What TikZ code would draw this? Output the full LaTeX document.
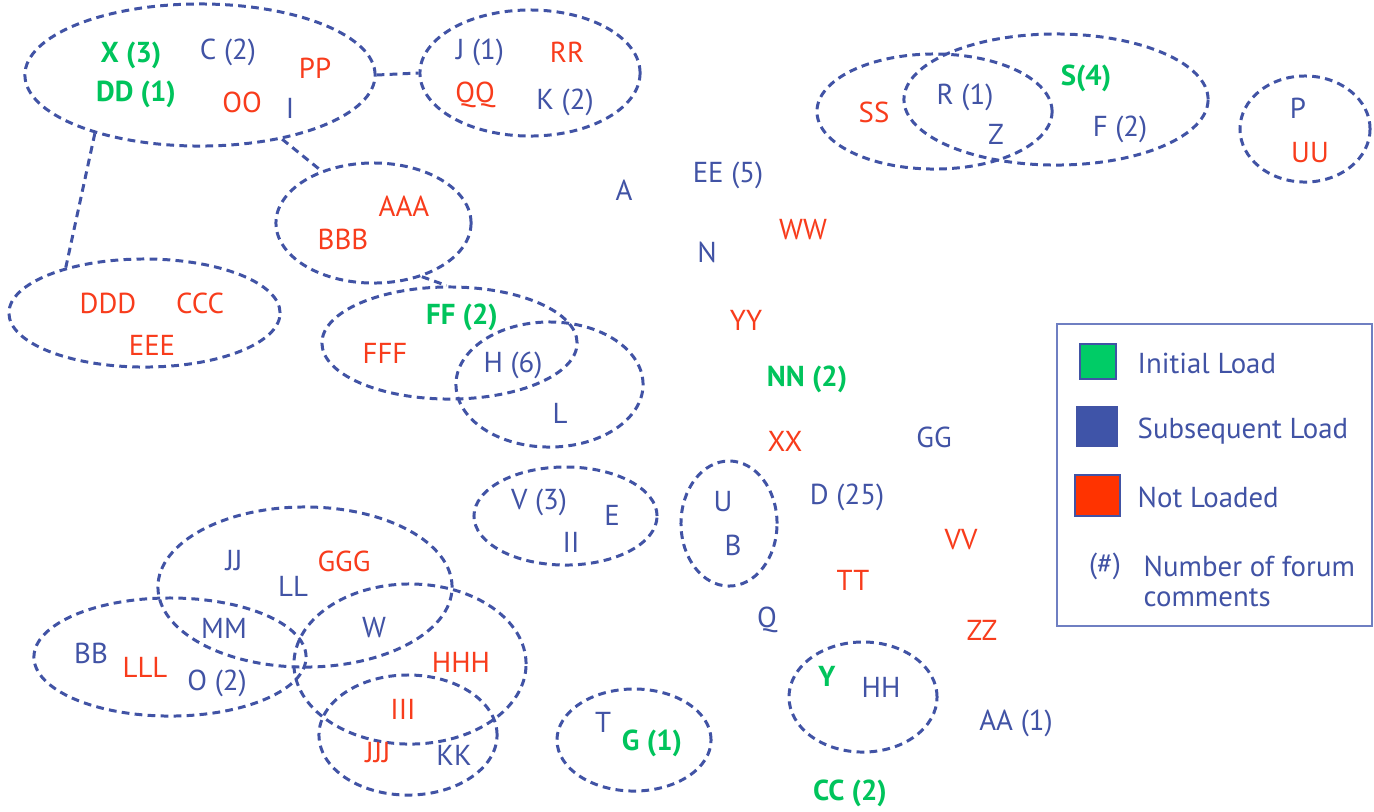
\documentclass[tikz,border=0pt]{standalone}
\usepackage{fontspec}
\setmainfont{PT Sans}
\usetikzlibrary{shapes.geometric}
\definecolor{tblue}{HTML}{4153A5}
\definecolor{tred}{HTML}{F83C1C}
\definecolor{tgreen}{HTML}{00C45C}
\definecolor{sqgreen}{HTML}{00CC66}
\definecolor{sqblue}{HTML}{3F54A8}
\definecolor{sqred}{HTML}{FF3300}
\definecolor{lborder}{HTML}{6F7FC2}
\begin{document}
\begin{tikzpicture}[x=0.01cm,y=-0.01cm,
  grp/.style={draw=tblue, dash pattern=on 2.2pt off 1.5pt, line width=0.85pt, ellipse, inner sep=0pt},
  conn/.style={draw=tblue, dash pattern=on 2.2pt off 1.5pt, line width=0.85pt},
  lb/.style={font=\fontsize{8.2}{10}\selectfont, text=tblue, inner sep=0pt},
  lr/.style={lb, text=tred},
  lg/.style={inner sep=0pt, text=tgreen, font=\fontsize{8.2}{10}\selectfont\bfseries},
  sq/.style={draw=tblue, line width=0.4pt, inner sep=0pt},
  leg/.style={lb, anchor=west}]
\useasboundingbox (0,0) rectangle (1374,811);
\fill[white] (0,0) rectangle (1374,811);
% groups
\node[grp, minimum width=3.50cm, minimum height=1.42cm] (e1) at (200,75) {};
\node[grp, minimum width=2.20cm, minimum height=1.26cm] (e2) at (530,73) {};
\node[grp, minimum width=1.95cm, minimum height=1.20cm] (e3) at (373.5,223) {};
\node[grp, minimum width=2.71cm, minimum height=1.08cm] (e5) at (144.5,313) {};
\node[grp, minimum width=2.55cm, minimum height=1.12cm] (e4) at (449.5,343) {};
\node[grp, minimum width=1.87cm, minimum height=1.25cm] (e6) at (549.5,384.5) {};
\node[grp, minimum width=1.83cm, minimum height=0.98cm] (e7) at (565.5,516) {};
\node[grp, minimum width=0.96cm, minimum height=1.25cm] (e8) at (729,523.5) {};
\node[grp, minimum width=2.94cm, minimum height=1.60cm] (e9) at (305,587) {};
\node[grp, minimum width=2.72cm, minimum height=1.18cm] (e10) at (170,657) {};
\node[grp, minimum width=2.32cm, minimum height=1.60cm] (e11) at (410,664) {};
\node[grp, minimum width=1.78cm, minimum height=1.20cm] (e12) at (408,735) {};
\node[grp, minimum width=1.54cm, minimum height=1.02cm] (e13) at (634,740) {};
\node[grp, minimum width=1.48cm, minimum height=1.10cm] (e14) at (863,697) {};
\node[grp, minimum width=2.35cm, minimum height=1.15cm] (e15) at (934.5,111.5) {};
\node[grp, minimum width=3.04cm, minimum height=1.31cm] (e16) at (1056,99.5) {};
\node[grp, minimum width=1.30cm, minimum height=1.06cm] (e17) at (1305,129) {};
% connectors
\draw[conn] (e1.east) -- (e2.west);
\draw[conn] (e1.209) -- (e5.150);
\draw[conn] (e1.-38) -- (e3.135);
\draw[conn] (e3.-48) -- (e4.93);
% texts in groups
\node[lg] (x3) at (131,55) {X (3)};
\node[lg] (dd1) at (136,94) {DD (1)};
\node[lb] (c2) at (228,52) {C (2)};
\node[lr] (pp) at (315,68) {PP};
\node[lr] (oo) at (242,102) {OO};
\node[lb] (i) at (290,108) {I};
\node[lb] (j1) at (480,52) {J (1)};
\node[lr] (rr) at (567,52) {RR};
\node[lr] (qq) at (475,95) {QQ};
\node[lb] (k2) at (565,102) {K (2)};
\node[lr] (aaa) at (404,206) {AAA};
\node[lr] (bbb) at (343,239) {BBB};
\node[lr] (ddd) at (108,303) {DDD};
\node[lr] (ccc) at (200,303) {CCC};
\node[lr] (eee) at (152,345) {EEE};
\node[lg] (ff2) at (462,317) {FF (2)};
\node[lr] (fff) at (385,353) {FFF};
\node[lb] (h6) at (513,365) {H (6)};
\node[lb] (l) at (560,413) {L};
\node[lb] (v3) at (539,502) {V (3)};
\node[lb] (e) at (612,515) {E};
\node[lb] (ii) at (571,542) {II};
\node[lb] (u) at (723,502) {U};
\node[lb] (b) at (733,545) {B};
\node[lb] (jj) at (234,561) {JJ};
\node[lb] (ll) at (293,586) {LL};
\node[lr] (ggg) at (344,561) {GGG};
\node[lb] (mm) at (224,628) {MM};
\node[lb] (w) at (374,628) {W};
\node[lb] (bb) at (91,653) {BB};
\node[lr] (lll) at (145,667) {LLL};
\node[lb] (o2) at (217,683) {O (2)};
\node[lr] (hhh) at (461,662) {HHH};
\node[lr] (iii) at (403,709) {III};
\node[lr] (jjj) at (378,753) {JJJ};
\node[lb] (kk) at (454,755) {KK};
\node[lb] (t) at (603,722) {T};
\node[lg] (g1) at (652,743) {G (1)};
\node[lg] (y) at (827,676) {Y};
\node[lb] (hh) at (881,687) {HH};
\node[lr] (ss) at (874,112) {SS};
\node[lb] (r1) at (965,97) {R (1)};
\node[lb] (z) at (996,134) {Z};
\node[lg] (s4) at (1086,78) {S(4)};
\node[lb] (f2) at (1120,129) {F (2)};
\node[lb] (p) at (1298,108) {P};
\node[lr] (uu) at (1310,153) {UU};
% free texts
\node[lb] (a) at (624,190) {A};
\node[lb] (ee5) at (728,175) {EE (5)};
\node[lb] (n) at (707,252) {N};
\node[lr] (ww) at (803,230) {WW};
\node[lr] (yy) at (746,320) {YY};
\node[lg] (nn2) at (807,379) {NN (2)};
\node[lr] (xx) at (785,441) {XX};
\node[lb] (gg) at (934,437) {GG};
\node[lb] (d25) at (847,497) {D (25)};
\node[lr] (vv) at (961,540) {VV};
\node[lr] (tt) at (853,580) {TT};
\node[lb] (q) at (767,620) {Q};
\node[lr] (zz) at (982,630) {ZZ};
\node[lb] (aa1) at (1016,723) {AA (1)};
\node[lg] (cc2) at (850,793) {CC (2)};
% legend
\node[draw=lborder, line width=0.5pt, minimum width=3.15cm, minimum height=3.02cm, inner sep=0pt] (legbox) at (1214.5,475) {};
\node[sq, fill=sqgreen, minimum width=0.36cm, minimum height=0.35cm] (sqg) at (1098,361.5) {};
\node[sq, fill=sqblue, minimum width=0.40cm, minimum height=0.39cm] (sqb) at (1097,426.5) {};
\node[sq, fill=sqred, minimum width=0.45cm, minimum height=0.41cm] (sqr) at (1097.5,495.5) {};
\node[leg] (legg) at (1137,363) {Initial Load};
\node[leg] (legb) at (1137,431) {Subsequent Load};
\node[leg] (legr) at (1137,497) {Not Loaded};
\node[lb] (hash) at (1105,566) {(\#)};
\node[leg] (legn1) at (1143,566) {Number of forum};
\node[leg] (legn2) at (1143,598) {comments};
\end{tikzpicture}
\end{document}
